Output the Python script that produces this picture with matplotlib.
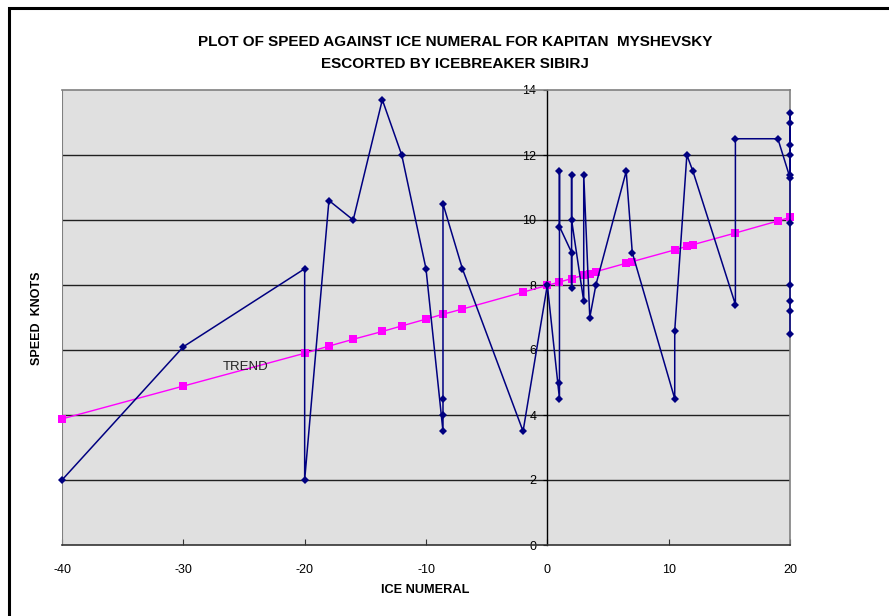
import matplotlib
matplotlib.use("Agg")
import matplotlib.pyplot as plt
from matplotlib.patches import Rectangle

# ---- data ----
ice_numeral = [-40, -30, -20, -20, -18, -16, -13.6, -12, -10,
               -8.6, -8.6, -8.6, -8.6, -7, -2, 0,
               1, 1, 1, 1, 2, 2, 2, 2, 3, 3, 3.5, 4, 6.5, 7,
               10.5, 10.5, 11.5, 12, 15.5, 15.5, 19,
               20, 20, 20, 20, 20, 20, 20, 20, 20, 20, 20]
speed = [2.0, 6.1, 8.5, 2.0, 10.6, 10.0, 13.7, 12.0, 8.5,
         3.5, 4.0, 4.5, 10.5, 8.5, 3.5, 8.0,
         4.5, 5.0, 11.5, 9.8, 9.0, 7.9, 11.4, 10.0, 7.5, 11.4, 7.0, 8.0, 11.5, 9.0,
         4.5, 6.6, 12.0, 11.5, 7.4, 12.5, 12.5,
         11.3, 11.4, 12.0, 12.3, 13.0, 13.3, 9.9, 8.0, 7.5, 7.2, 6.5]

trend_x = [-40, -30, -20, -18, -16, -13.6, -12, -10, -8.6, -7, -2, 0,
           1, 2, 3, 3.5, 4, 6.5, 7, 10.5, 11.5, 12, 15.5, 19, 20]
trend_y = [3.88, 4.89, 5.90, 6.12, 6.33, 6.57, 6.74, 6.95, 7.10, 7.26, 7.78, 7.99,
           8.09, 8.20, 8.30, 8.35, 8.41, 8.67, 8.72, 9.08, 9.19, 9.24, 9.60, 9.97, 10.08]

x_ticks = [-40, -30, -20, -10, 0, 10, 20]
y_ticks = [0, 2, 4, 6, 8, 10, 12, 14]

title_lines = ["PLOT OF SPEED AGAINST ICE NUMERAL FOR KAPITAN  MYSHEVSKY",
               "ESCORTED BY ICEBREAKER SIBIRJ"]

# ---- figure ----
plt.rcParams['font.family'] = ['Liberation Sans', 'DejaVu Sans']
W, H = 889, 616
fig = plt.figure(figsize=(W / 100, H / 100), dpi=100)
fig.patch.set_facecolor('white')

# outer frame (extends beyond right/bottom edge)
fig.patches.append(Rectangle((9 / W, -0.1), 1.2, 1 - 8 / H + 0.1,
                             transform=fig.transFigure, fill=False,
                             edgecolor='black', linewidth=2.2))

ax = fig.add_axes([62 / W, 1 - 545 / H, (790 - 62) / W, (545 - 90) / H])
ax.set_facecolor('#E0E0E0')
ax.set_xlim(-40, 20)
ax.set_ylim(0, 14)

for yv in y_ticks[1:-1]:
    ax.axhline(yv, color='#202020', linewidth=1.0, zorder=1)

ax.plot(trend_x, trend_y, color='#FF00FF', linewidth=1.0, marker='s',
        markersize=6, markeredgewidth=0, zorder=3, clip_on=False)
ax.plot(ice_numeral, speed, color='#000080', linewidth=1.1, marker='D',
        markersize=4.5, markeredgewidth=0, zorder=4, clip_on=False)

ax.text(-24.85, 5.48, "TREND", fontsize=9.5, ha='center', va='center', color='#222222')

# spines
for s in ['top', 'right']:
    ax.spines[s].set_color('#808080')
    ax.spines[s].set_linewidth(1.2)
ax.spines['bottom'].set_color('#333333')
ax.spines['bottom'].set_linewidth(1.2)
ax.spines['left'].set_position(('data', 0))
ax.spines['left'].set_color('black')
ax.spines['left'].set_linewidth(1.0)
ax.axvline(-40, color='#808080', linewidth=1.5, zorder=2)

ax.set_xticks(x_ticks)
ax.set_xticklabels([str(v) for v in x_ticks])
ax.set_yticks(y_ticks)
ax.set_yticklabels([str(v) for v in y_ticks])
ax.tick_params(axis='x', direction='in', length=4, labelsize=9, pad=14, color='#333333')
ax.tick_params(axis='y', direction='out', length=3, labelsize=9, pad=5)

fig.text(455 / W, 1 - 42 / H, title_lines[0], ha='center', va='center',
         fontsize=11, fontweight='bold')
fig.text(455 / W, 1 - 64 / H, title_lines[1], ha='center', va='center',
         fontsize=11, fontweight='bold')
fig.text(425 / W, 1 - 590 / H, "ICE NUMERAL", ha='center', va='center',
         fontsize=9.2, fontweight='bold')
fig.text(37 / W, 1 - 318 / H, "SPEED  KNOTS", ha='center', va='center',
         fontsize=9, fontweight='bold', rotation=90)

fig.savefig("out.png", dpi=100)
